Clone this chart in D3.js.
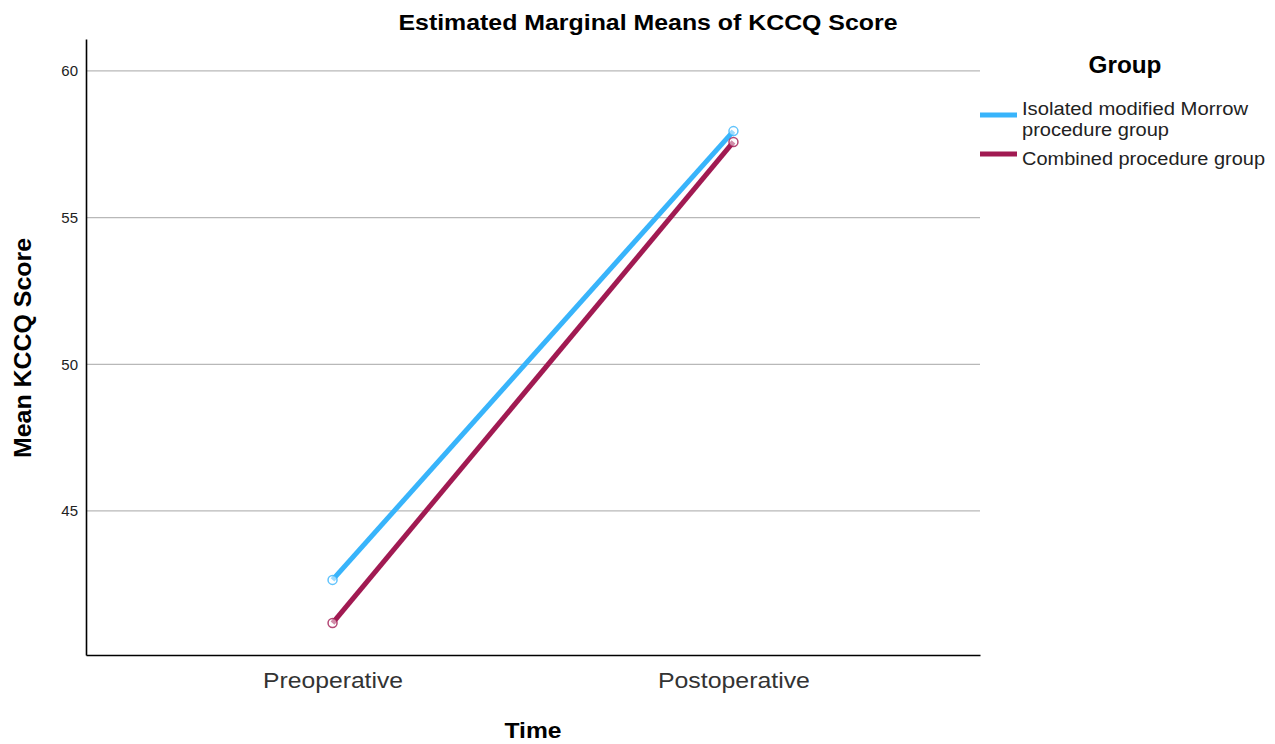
<!DOCTYPE html>
<html>
<head>
<meta charset="utf-8">
<script src="https://cdn.jsdelivr.net/npm/d3@7"></script>
<style>
  body { margin: 0; background: #fff; }
  text { font-family: "Liberation Sans", Arial, sans-serif; }
</style>
</head>
<body>
<div id="chart"></div>
<script>
// chart data
var times = ["Preoperative", "Postoperative"];
var groups = ["Isolated modified Morrow procedure group", "Combined procedure group"];
var isolatedMeans = [42.65, 57.95];
var combinedMeans = [41.18, 57.58];
var yTicks = [45, 50, 55, 60];
var groupColors = ["#38b4fb", "#a11a52"];

var svgWidth = 1275;
var svgHeight = 744;
var plotLeft = 86, plotRight = 980, plotTop = 39, plotBottom = 655;

var svg = d3.select("#chart")
            .append("svg")
            .attr("width", svgWidth)
            .attr("height", svgHeight);

var x = d3.scalePoint()
          .domain(times)
          .range([plotLeft, plotRight])
          .padding(0.615);

var y = d3.scaleLinear()
          .domain([40.09, 61.09])
          .range([plotBottom, plotTop]);

// gridlines
svg.append("g")
   .selectAll("line")
   .data(yTicks)
   .enter()
   .append("line")
   .attr("x1", plotLeft)
   .attr("x2", plotRight)
   .attr("y1", function(d) { return y(d); })
   .attr("y2", function(d) { return y(d); })
   .attr("stroke", "#b8b8b8")
   .attr("stroke-width", 1.3);

// y axis
var yAxis = svg.append("g")
   .attr("transform", "translate(" + plotLeft + ",0)")
   .call(d3.axisLeft(y).tickValues(yTicks).tickSize(0).tickPadding(8));
yAxis.select(".domain").attr("stroke", "#000").attr("stroke-width", 1.6);
yAxis.selectAll("text").attr("font-size", "15px").attr("fill", "#222")
     .style("font-family", "'Liberation Sans', Arial, sans-serif");

// x axis
var xAxis = svg.append("g")
   .attr("transform", "translate(0," + plotBottom + ")")
   .call(d3.axisBottom(x).tickSize(0));
xAxis.select(".domain").attr("stroke", "#000").attr("stroke-width", 1.6);
var tickWidths = [140, 152];
xAxis.selectAll("text")
     .attr("dy", null)
     .attr("y", 33)
     .attr("font-size", "22px").attr("fill", "#333")
     .attr("textLength", function(d, i) { return tickWidths[i]; })
     .attr("lengthAdjust", "spacingAndGlyphs")
     .style("font-family", "'Liberation Sans', Arial, sans-serif");

// lines
var series = [isolatedMeans, combinedMeans];
var line = d3.line()
             .x(function(d, i) { return x(times[i]); })
             .y(function(d) { return y(d); });

svg.selectAll(".series")
   .data(series)
   .enter()
   .append("path")
   .attr("class", "series")
   .attr("d", line)
   .attr("fill", "none")
   .attr("stroke", function(d, i) { return groupColors[i]; })
   .attr("stroke-width", 5);

series.forEach(function(s, gi) {
  svg.selectAll(".pt" + gi)
     .data(s)
     .enter()
     .append("circle")
     .attr("class", "pt" + gi)
     .attr("cx", function(d, i) { return x(times[i]); })
     .attr("cy", function(d) { return y(d); })
     .attr("r", 4.5)
     .attr("fill", "#fff")
     .attr("fill-opacity", 0.5)
     .attr("stroke", groupColors[gi])
     .attr("stroke-opacity", 0.8)
     .attr("stroke-width", 1.5);
});

// titles
svg.append("text")
   .attr("x", 648).attr("y", 30)
   .attr("text-anchor", "middle")
   .attr("font-size", "22px").attr("font-weight", "bold")
   .attr("textLength", 499).attr("lengthAdjust", "spacingAndGlyphs")
   .text("Estimated Marginal Means of KCCQ Score");

svg.append("text")
   .attr("x", 533).attr("y", 738)
   .attr("text-anchor", "middle")
   .attr("font-size", "22px").attr("font-weight", "bold")
   .attr("textLength", 57).attr("lengthAdjust", "spacingAndGlyphs")
   .text("Time");

svg.append("text")
   .attr("transform", "translate(31,348) rotate(-90)")
   .attr("text-anchor", "middle")
   .attr("font-size", "23px").attr("font-weight", "bold")
   .attr("textLength", 220).attr("lengthAdjust", "spacingAndGlyphs")
   .text("Mean KCCQ Score");

// legend
svg.append("text")
   .attr("x", 1125).attr("y", 73)
   .attr("text-anchor", "middle")
   .attr("font-size", "23px").attr("font-weight", "bold")
   .attr("textLength", 73).attr("lengthAdjust", "spacingAndGlyphs")
   .text("Group");

var legendLines = [["Isolated modified Morrow", "procedure group"], ["Combined procedure group"]];
var legendWidths = [[226, 147], [243]];
var legendY = [115, 154];

var leg = svg.selectAll(".leg")
   .data(groups)
   .enter()
   .append("g")
   .attr("class", "leg")
   .attr("transform", function(d, i) { return "translate(980," + legendY[i] + ")"; });

leg.append("line")
   .attr("x1", 0).attr("x2", 37)
   .attr("stroke", function(d, i) { return groupColors[i]; })
   .attr("stroke-width", 5);

leg.each(function(d, i) {
  var g = d3.select(this);
  legendLines[i].forEach(function(s, k) {
    g.append("text")
     .attr("x", 42)
     .attr("y", (i === 0 ? 0 : 11) + k * 21)
     .attr("font-size", "18px")
     .attr("fill", "#222")
     .attr("textLength", legendWidths[i][k])
     .attr("lengthAdjust", "spacingAndGlyphs")
     .text(s);
  });
});
</script>
</body>
</html>
